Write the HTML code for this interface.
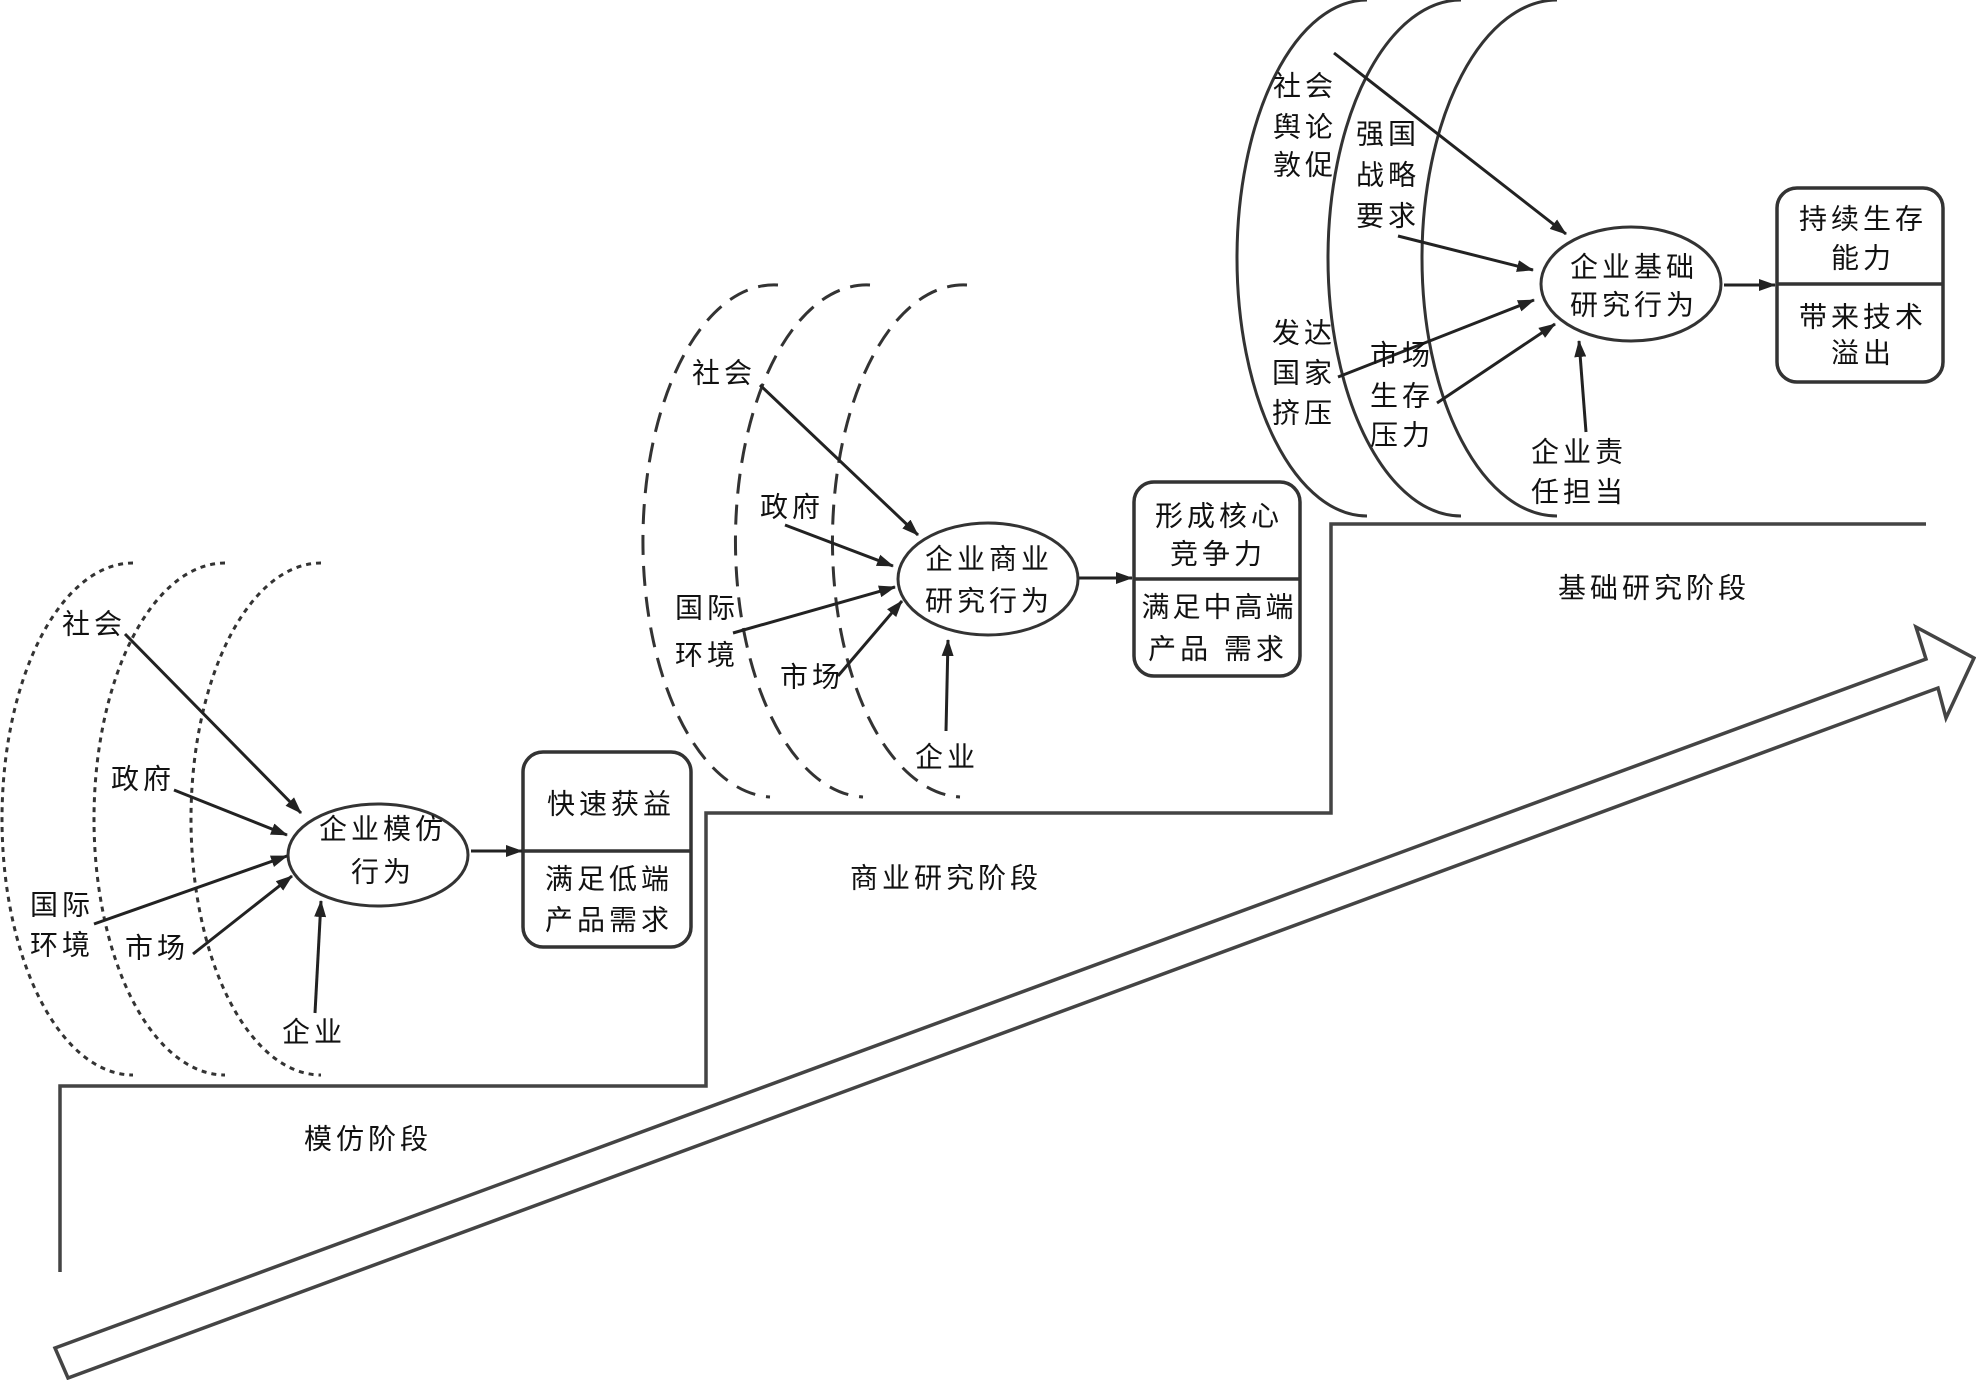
<!DOCTYPE html>
<html><head><meta charset="utf-8">
<style>
html,body{margin:0;padding:0;background:#fff;}
svg{display:block;}
text{font-family:"Liberation Sans","Noto Sans CJK SC","WenQuanYi Zen Hei",sans-serif;font-size:28px;fill:#111;letter-spacing:4px;}
</style></head>
<body>
<svg width="1976" height="1380" viewBox="0 0 1976 1380" xmlns="http://www.w3.org/2000/svg">
<defs>
<marker id="ah" markerWidth="17" markerHeight="12" refX="16" refY="6" orient="auto" markerUnits="userSpaceOnUse">
<path d="M0,0 L17,6 L0,12 z" fill="#222"/>
</marker>
</defs>

<!-- staircase -->
<polyline points="60,1272 60,1086 706,1086 706,813 1331,813 1331,524 1926,524" fill="none" stroke="#444" stroke-width="3.5"/>

<!-- big arrow -->
<polygon points="55,1348 1926,659 1916,627 1974,658 1946,718 1938,688 68,1378" fill="none" stroke="#444" stroke-width="3.5" stroke-linejoin="miter"/>

<!-- Stage 1 dotted arcs -->
<g fill="none" stroke="#333" stroke-width="3" stroke-dasharray="5 5">
<path d="M133,563 A131 256 0 0 0 133,1075"/>
<path d="M225,563 A131 256 0 0 0 225,1075"/>
<path d="M321,563 A130 256 0 0 0 321,1075"/>
</g>

<!-- Stage 2 dashed arcs -->
<g fill="none" stroke="#333" stroke-width="3" stroke-dasharray="20 11">
<path d="M778,285 A131 256 0 0 0 770,797"/>
<path d="M870,285 A131 256 0 0 0 863,797"/>
<path d="M967,285 A131 256 0 0 0 960,797"/>
</g>

<!-- Stage 3 solid arcs -->
<g fill="none" stroke="#333" stroke-width="3">
<path d="M1367,0 A130 258 0 0 0 1367,516"/>
<path d="M1461,0 A133 258 0 0 0 1461,516"/>
<path d="M1557,0 A135 258 0 0 0 1557,516"/>
</g>

<!-- ellipses -->
<g fill="#fff" stroke="#333" stroke-width="3">
<ellipse cx="378" cy="855" rx="90" ry="51"/>
<ellipse cx="988" cy="579" rx="90" ry="56"/>
<ellipse cx="1631" cy="284" rx="90" ry="57"/>
</g>

<!-- boxes -->
<g fill="none" stroke="#333" stroke-width="3.5">
<rect x="523" y="752" width="168" height="195" rx="20" ry="20"/>
<line x1="523" y1="851" x2="691" y2="851"/>
<rect x="1134" y="482" width="166" height="194" rx="20" ry="20"/>
<line x1="1134" y1="579" x2="1300" y2="579"/>
<rect x="1777" y="188" width="166" height="194" rx="20" ry="20"/>
<line x1="1777" y1="284" x2="1943" y2="284"/>
</g>

<!-- arrows -->
<g stroke="#222" stroke-width="3" marker-end="url(#ah)">
<line x1="125" y1="634" x2="301" y2="813"/>
<line x1="174" y1="790" x2="287" y2="835"/>
<line x1="94" y1="924" x2="287" y2="856"/>
<line x1="193" y1="954" x2="292" y2="876"/>
<line x1="315" y1="1013" x2="321" y2="901"/>
<line x1="471" y1="851" x2="522" y2="851"/>

<line x1="760" y1="385" x2="918" y2="535"/>
<line x1="785" y1="525" x2="893" y2="566"/>
<line x1="733" y1="633" x2="895" y2="587"/>
<line x1="838" y1="676" x2="902" y2="601"/>
<line x1="946" y1="731" x2="948" y2="640"/>
<line x1="1079" y1="578" x2="1132" y2="578"/>

<line x1="1334" y1="53" x2="1566" y2="234"/>
<line x1="1398" y1="236" x2="1533" y2="270"/>
<line x1="1338" y1="377" x2="1534" y2="300"/>
<line x1="1437" y1="403" x2="1555" y2="324"/>
<line x1="1586" y1="432" x2="1579" y2="341"/>
<line x1="1724" y1="285" x2="1775" y2="285"/>
</g>

<!-- texts -->
<g text-anchor="middle" dominant-baseline="central">
<!-- stage 1 -->
<text x="94" y="624">社会</text>
<text x="143" y="779">政府</text>
<text x="62" y="905">国际</text>
<text x="62" y="945">环境</text>
<text x="157" y="948">市场</text>
<text x="314" y="1032">企业</text>
<text x="383" y="829">企业模仿</text>
<text x="383" y="872">行为</text>
<text x="611" y="804">快速获益</text>
<text x="609" y="879">满足低端</text>
<text x="609" y="920">产品需求</text>
<text x="368" y="1139">模仿阶段</text>

<!-- stage 2 -->
<text x="724" y="373">社会</text>
<text x="792" y="507">政府</text>
<text x="707" y="608">国际</text>
<text x="707" y="655">环境</text>
<text x="812" y="677">市场</text>
<text x="947" y="757">企业</text>
<text x="989" y="559">企业商业</text>
<text x="989" y="601">研究行为</text>
<text x="1219" y="516">形成核心</text>
<text x="1218" y="554">竞争力</text>
<text x="1219" y="607" style="letter-spacing:3px">满足中高端</text>
<text x="1218" y="649">产品 需求</text>
<text x="946" y="878">商业研究阶段</text>

<!-- stage 3 -->
<text x="1305" y="86">社会</text>
<text x="1305" y="127">舆论</text>
<text x="1305" y="165">敦促</text>
<text x="1388" y="134">强国</text>
<text x="1388" y="175">战略</text>
<text x="1388" y="216">要求</text>
<text x="1304" y="333">发达</text>
<text x="1304" y="373">国家</text>
<text x="1304" y="413">挤压</text>
<text x="1402" y="355">市场</text>
<text x="1402" y="396">生存</text>
<text x="1402" y="435">压力</text>
<text x="1579" y="452">企业责</text>
<text x="1579" y="492">任担当</text>
<text x="1634" y="267">企业基础</text>
<text x="1634" y="305">研究行为</text>
<text x="1863" y="219">持续生存</text>
<text x="1863" y="258">能力</text>
<text x="1863" y="317">带来技术</text>
<text x="1863" y="353">溢出</text>
<text x="1654" y="588">基础研究阶段</text>
</g>
</svg>
</body></html>
